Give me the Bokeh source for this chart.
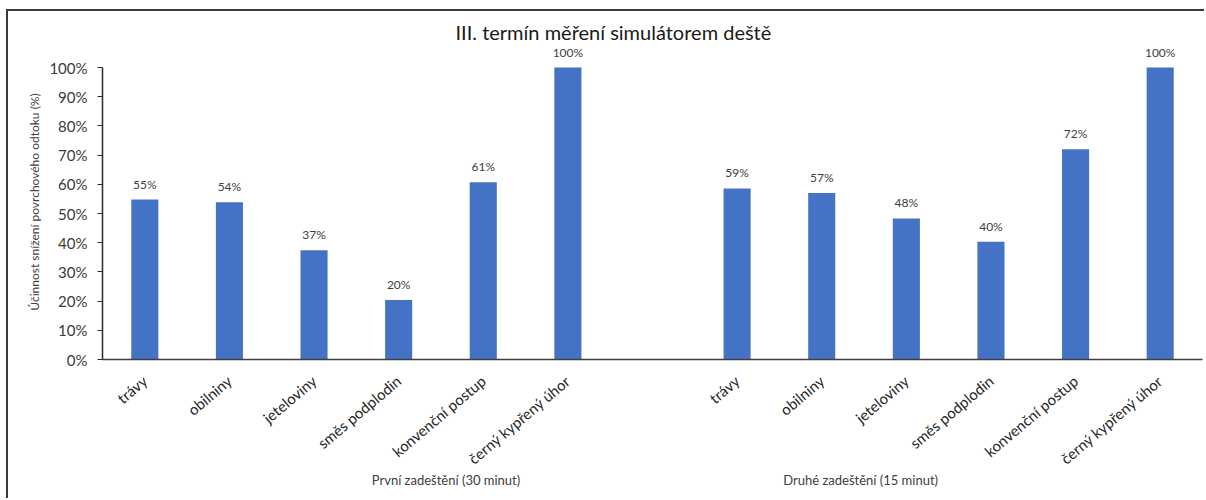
from bokeh.plotting import figure
from bokeh.models import (ColumnDataSource, FixedTicker, LinearAxis,
                          NumeralTickFormatter, Range1d, Title)
from bokeh.core.properties import value
from bokeh.embed import file_html
from bokeh.resources import INLINE

# ---- data ----
categories = ["trávy", "obilniny", "jeteloviny", "směs podplodin",
              "konvenční postup", "černý kypřený úhor"]
groups = ["První zadeštění (30 minut)", "Druhé zadeštění (15 minut)"]
values_first = [0.548, 0.539, 0.374, 0.204, 0.607, 1.00]
values_second = [0.586, 0.570, 0.483, 0.403, 0.720, 1.00]
y_ticks = [0.0, 0.1, 0.2, 0.3, 0.4, 0.5, 0.6, 0.7, 0.8, 0.9, 1.0]
title_text = "III. termín měření simulátorem deště"
y_label = "Účinnost snížení povrchového odtoku (%)"

FONT = "Lato"
BAR = "#4472C4"
TXT = "#404040"

n = len(categories)
xs = [i for i in range(n)] + [n + 1 + i for i in range(n)]
vals = values_first + values_second
labels = [f"{round(v * 100):d}%" for v in vals]
src = ColumnDataSource(dict(x=xs, top=vals, lab=labels))

p = figure(width=1198, height=489, output_backend="svg", toolbar_location=None,
           x_range=Range1d(-0.5, 2 * n + 0.5), y_range=Range1d(0, 1.079),
           min_border_left=94, min_border_right=4, min_border_top=33,
           min_border_bottom=141)
p.styles = {"border-top": "2px solid #3a3a3a", "border-left": "2px solid #3a3a3a",
            "margin-top": "9px", "margin-left": "6px"}
p.outline_line_color = None
p.grid.visible = False
p.background_fill_color = "white"
p.border_fill_color = "white"

p.title = Title(text=title_text, align="left", offset=353, standoff=1,
                text_font=FONT, text_font_size="20px", text_font_style="normal",
                text_color="#1a1a1a")

p.vbar(x="x", top="top", width=0.32, source=src, fill_color=BAR,
       line_color=None)
p.text(x="x", y="top", text="lab", source=src, text_align="center",
       text_baseline="bottom", y_offset=-8, text_font=value(FONT),
       text_font_size="12px", text_color=TXT)

# y axis
ya = p.yaxis[0]
ya.ticker = FixedTicker(ticks=y_ticks)
ya.formatter = NumeralTickFormatter(format="0%")
ya.bounds = (0, 1)
ya.axis_line_color = "#2b2b2b"
ya.axis_line_width = 1.5
ya.major_tick_line_color = "#2b2b2b"
ya.major_tick_out = 5
ya.major_tick_in = 0
ya.minor_tick_line_color = None
ya.major_label_text_font = FONT
ya.major_label_text_font_size = "15px"
ya.major_label_text_color = "#3a3a3a"
ya.major_label_standoff = 10
ya.axis_label = y_label
ya.axis_label_text_font = FONT
ya.axis_label_text_font_size = "12px"
ya.axis_label_text_font_style = "normal"
ya.axis_label_text_color = TXT
ya.axis_label_standoff = 4

# x axis with category labels
xa = p.xaxis[0]
xa.ticker = FixedTicker(ticks=xs)
xa.major_label_overrides = {x: categories[i % n] for i, x in enumerate(xs)}
xa.major_label_orientation = 0.7
xa.axis_line_color = "#404040"
xa.axis_line_width = 1.5
xa.major_tick_line_color = None
xa.minor_tick_line_color = None
xa.major_label_text_font = FONT
xa.major_label_text_font_size = "15px"
xa.major_label_text_color = "#262626"
xa.major_label_standoff = 13

# second x axis carrying the group labels
group_pos = [3.56, 8.46]
ga = LinearAxis(ticker=FixedTicker(ticks=group_pos),
                major_label_overrides={gp: g for gp, g in zip(group_pos, groups)})
ga.axis_line_color = None
ga.major_tick_line_color = None
ga.minor_tick_line_color = None
ga.major_label_text_font = FONT
ga.major_label_text_font_size = "13px"
ga.major_label_text_color = TXT
ga.major_label_standoff = -12
p.add_layout(ga, "below")

open("out.html", "w").write(file_html(p, INLINE))
